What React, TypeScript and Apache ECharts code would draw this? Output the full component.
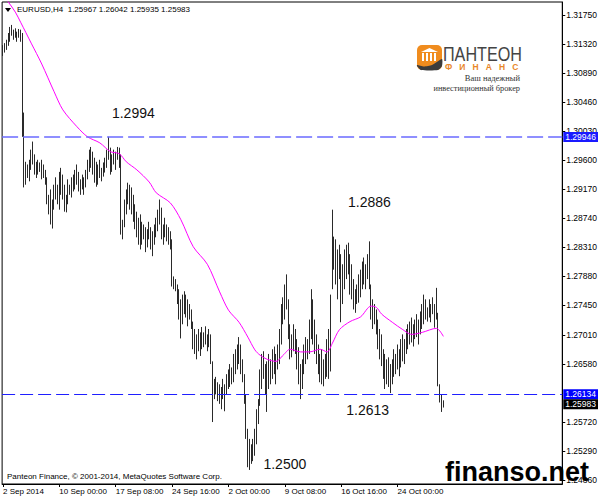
import React, { useEffect, useRef } from 'react';
import * as echarts from 'echarts';

// EURUSD H4 bars: [open, high, low, close]
const bars: number[][] = [
  [1.3118, 1.3131, 1.3115, 1.3127], [1.3127, 1.3134, 1.3120, 1.3129], [1.3129, 1.3139, 1.3124, 1.3136],
  [1.3136, 1.3149, 1.3130, 1.3146], [1.3146, 1.3158, 1.3136, 1.3152], [1.3152, 1.3161, 1.3145, 1.3148],
  [1.3148, 1.3154, 1.3139, 1.3145], [1.3145, 1.3156, 1.3142, 1.3150], [1.3150, 1.3151, 1.3136, 1.3142],
  [1.3142, 1.3155, 1.3142, 1.3149], [1.3149, 1.3154, 1.3136, 1.3144], [1.3144, 1.3149, 1.2995, 1.3000],
  [1.3000, 1.3031, 1.2920, 1.2940], [1.2940, 1.2958, 1.2924, 1.2945], [1.2945, 1.2954, 1.2934, 1.2940],
  [1.2940, 1.2961, 1.2929, 1.2955], [1.2955, 1.2976, 1.2946, 1.2970], [1.2970, 1.2988, 1.2954, 1.2960],
  [1.2960, 1.2969, 1.2939, 1.2945], [1.2945, 1.2958, 1.2934, 1.2950], [1.2950, 1.2961, 1.2939, 1.2946],
  [1.2946, 1.2957, 1.2943, 1.2952], [1.2952, 1.2961, 1.2932, 1.2940], [1.2940, 1.2954, 1.2934, 1.2944],
  [1.2944, 1.2946, 1.2924, 1.2930], [1.2930, 1.2935, 1.2895, 1.2900], [1.2900, 1.2909, 1.2880, 1.2895],
  [1.2895, 1.2917, 1.2865, 1.2875], [1.2875, 1.2902, 1.2859, 1.2895], [1.2895, 1.2924, 1.2887, 1.2915],
  [1.2915, 1.2935, 1.2902, 1.2905], [1.2905, 1.2924, 1.2895, 1.2918], [1.2918, 1.2943, 1.2887, 1.2935],
  [1.2935, 1.2949, 1.2909, 1.2920], [1.2920, 1.2939, 1.2902, 1.2910], [1.2910, 1.2924, 1.2884, 1.2895],
  [1.2895, 1.2909, 1.2883, 1.2902], [1.2902, 1.2932, 1.2895, 1.2920], [1.2920, 1.2924, 1.2909, 1.2915],
  [1.2915, 1.2935, 1.2905, 1.2928], [1.2928, 1.2939, 1.2914, 1.2932], [1.2932, 1.2946, 1.2917, 1.2940],
  [1.2940, 1.2954, 1.2924, 1.2930], [1.2930, 1.2943, 1.2914, 1.2920], [1.2920, 1.2932, 1.2909, 1.2925],
  [1.2925, 1.2939, 1.2917, 1.2922], [1.2922, 1.2935, 1.2909, 1.2930], [1.2930, 1.2946, 1.2920, 1.2942],
  [1.2942, 1.2961, 1.2932, 1.2955], [1.2955, 1.2976, 1.2943, 1.2968], [1.2968, 1.2980, 1.2949, 1.2958],
  [1.2958, 1.2973, 1.2939, 1.2945], [1.2945, 1.2964, 1.2927, 1.2935], [1.2935, 1.2958, 1.2921, 1.2940],
  [1.2940, 1.2954, 1.2924, 1.2948], [1.2948, 1.2961, 1.2934, 1.2940], [1.2940, 1.2949, 1.2929, 1.2945],
  [1.2945, 1.2957, 1.2936, 1.2952], [1.2952, 1.2964, 1.2942, 1.2960], [1.2960, 1.2976, 1.2949, 1.2970],
  [1.2970, 1.2995, 1.2961, 1.2968], [1.2968, 1.2979, 1.2939, 1.2950], [1.2950, 1.2969, 1.2943, 1.2962],
  [1.2962, 1.2976, 1.2954, 1.2958], [1.2958, 1.2973, 1.2946, 1.2968], [1.2968, 1.2980, 1.2961, 1.2972],
  [1.2972, 1.2979, 1.2949, 1.2962], [1.2962, 1.2969, 1.2850, 1.2860], [1.2860, 1.2872, 1.2843, 1.2865],
  [1.2865, 1.2902, 1.2861, 1.2895], [1.2895, 1.2917, 1.2880, 1.2905], [1.2905, 1.2927, 1.2895, 1.2910],
  [1.2910, 1.2924, 1.2887, 1.2900], [1.2900, 1.2920, 1.2880, 1.2895], [1.2895, 1.2909, 1.2869, 1.2880],
  [1.2880, 1.2895, 1.2858, 1.2870], [1.2870, 1.2884, 1.2846, 1.2855], [1.2855, 1.2875, 1.2835, 1.2850],
  [1.2850, 1.2880, 1.2828, 1.2845], [1.2845, 1.2869, 1.2835, 1.2858], [1.2858, 1.2865, 1.2843, 1.2850],
  [1.2850, 1.2861, 1.2824, 1.2835], [1.2835, 1.2858, 1.2831, 1.2850], [1.2850, 1.2869, 1.2843, 1.2848],
  [1.2848, 1.2861, 1.2828, 1.2840], [1.2840, 1.2855, 1.2818, 1.2845], [1.2845, 1.2865, 1.2835, 1.2858],
  [1.2858, 1.2875, 1.2846, 1.2868], [1.2868, 1.2887, 1.2855, 1.2880], [1.2880, 1.2902, 1.2865, 1.2872],
  [1.2872, 1.2890, 1.2843, 1.2850], [1.2850, 1.2865, 1.2835, 1.2858], [1.2858, 1.2875, 1.2846, 1.2852],
  [1.2852, 1.2865, 1.2840, 1.2848], [1.2848, 1.2861, 1.2835, 1.2842], [1.2842, 1.2855, 1.2828, 1.2840],
  [1.2840, 1.2843, 1.2773, 1.2780], [1.2780, 1.2788, 1.2769, 1.2776], [1.2776, 1.2784, 1.2766, 1.2772],
  [1.2772, 1.2776, 1.2747, 1.2755], [1.2755, 1.2769, 1.2724, 1.2730], [1.2730, 1.2754, 1.2696, 1.2740],
  [1.2740, 1.2761, 1.2717, 1.2748], [1.2748, 1.2766, 1.2732, 1.2745], [1.2745, 1.2761, 1.2727, 1.2735],
  [1.2735, 1.2754, 1.2714, 1.2738], [1.2738, 1.2747, 1.2724, 1.2730], [1.2730, 1.2739, 1.2710, 1.2715],
  [1.2715, 1.2721, 1.2680, 1.2690], [1.2690, 1.2710, 1.2673, 1.2680], [1.2680, 1.2702, 1.2665, 1.2692],
  [1.2692, 1.2710, 1.2677, 1.2685], [1.2685, 1.2705, 1.2670, 1.2695], [1.2695, 1.2713, 1.2680, 1.2690],
  [1.2690, 1.2705, 1.2683, 1.2700], [1.2700, 1.2714, 1.2687, 1.2692], [1.2692, 1.2702, 1.2677, 1.2698],
  [1.2698, 1.2710, 1.2683, 1.2690], [1.2690, 1.2702, 1.2658, 1.2660], [1.2660, 1.2662, 1.2572, 1.2625],
  [1.2625, 1.2636, 1.2606, 1.2620], [1.2620, 1.2639, 1.2613, 1.2622], [1.2622, 1.2631, 1.2603, 1.2612],
  [1.2612, 1.2628, 1.2599, 1.2608], [1.2608, 1.2624, 1.2591, 1.2618], [1.2618, 1.2636, 1.2606, 1.2615],
  [1.2615, 1.2628, 1.2588, 1.2622], [1.2622, 1.2643, 1.2613, 1.2635], [1.2635, 1.2650, 1.2621, 1.2640],
  [1.2640, 1.2658, 1.2624, 1.2638], [1.2638, 1.2653, 1.2628, 1.2648], [1.2648, 1.2673, 1.2631, 1.2660],
  [1.2660, 1.2680, 1.2643, 1.2668], [1.2668, 1.2687, 1.2650, 1.2675], [1.2675, 1.2698, 1.2658, 1.2665],
  [1.2665, 1.2687, 1.2643, 1.2650], [1.2650, 1.2665, 1.2631, 1.2635], [1.2635, 1.2643, 1.2599, 1.2605],
  [1.2605, 1.2613, 1.2547, 1.2555], [1.2555, 1.2562, 1.2505, 1.2515], [1.2515, 1.2547, 1.2501, 1.2525],
  [1.2525, 1.2539, 1.2510, 1.2520], [1.2520, 1.2547, 1.2514, 1.2540], [1.2540, 1.2562, 1.2522, 1.2555],
  [1.2555, 1.2591, 1.2539, 1.2585], [1.2585, 1.2606, 1.2569, 1.2600], [1.2600, 1.2650, 1.2596, 1.2640],
  [1.2640, 1.2673, 1.2621, 1.2660], [1.2660, 1.2677, 1.2636, 1.2645], [1.2645, 1.2658, 1.2613, 1.2630],
  [1.2630, 1.2662, 1.2587, 1.2640], [1.2640, 1.2673, 1.2621, 1.2655], [1.2655, 1.2665, 1.2628, 1.2648],
  [1.2648, 1.2680, 1.2636, 1.2665], [1.2665, 1.2684, 1.2643, 1.2650], [1.2650, 1.2673, 1.2628, 1.2660],
  [1.2660, 1.2687, 1.2650, 1.2675], [1.2675, 1.2710, 1.2658, 1.2700], [1.2700, 1.2747, 1.2687, 1.2735],
  [1.2735, 1.2757, 1.2717, 1.2750], [1.2750, 1.2776, 1.2724, 1.2765], [1.2765, 1.2791, 1.2739, 1.2745],
  [1.2745, 1.2754, 1.2695, 1.2705], [1.2705, 1.2717, 1.2665, 1.2685], [1.2685, 1.2702, 1.2668, 1.2695],
  [1.2695, 1.2717, 1.2677, 1.2700], [1.2700, 1.2710, 1.2673, 1.2685], [1.2685, 1.2695, 1.2650, 1.2660],
  [1.2660, 1.2683, 1.2628, 1.2640], [1.2640, 1.2658, 1.2606, 1.2625], [1.2625, 1.2665, 1.2621, 1.2650],
  [1.2650, 1.2687, 1.2643, 1.2670], [1.2670, 1.2698, 1.2658, 1.2680], [1.2680, 1.2695, 1.2665, 1.2685],
  [1.2685, 1.2724, 1.2673, 1.2715], [1.2715, 1.2769, 1.2695, 1.2740], [1.2740, 1.2754, 1.2687, 1.2705],
  [1.2705, 1.2724, 1.2673, 1.2690], [1.2690, 1.2702, 1.2658, 1.2670], [1.2670, 1.2687, 1.2643, 1.2655],
  [1.2655, 1.2673, 1.2631, 1.2645], [1.2645, 1.2680, 1.2628, 1.2650], [1.2650, 1.2665, 1.2625, 1.2640],
  [1.2640, 1.2673, 1.2636, 1.2660], [1.2660, 1.2695, 1.2639, 1.2680], [1.2680, 1.2710, 1.2636, 1.2650],
  [1.2650, 1.2761, 1.2647, 1.2755], [1.2770, 1.2887, 1.2769, 1.2830], [1.2830, 1.2847, 1.2798, 1.2810],
  [1.2810, 1.2843, 1.2776, 1.2795], [1.2795, 1.2828, 1.2754, 1.2815], [1.2815, 1.2835, 1.2784, 1.2800],
  [1.2800, 1.2821, 1.2720, 1.2770], [1.2770, 1.2806, 1.2747, 1.2795], [1.2795, 1.2828, 1.2769, 1.2815],
  [1.2815, 1.2835, 1.2784, 1.2825], [1.2825, 1.2838, 1.2791, 1.2810], [1.2810, 1.2821, 1.2761, 1.2785],
  [1.2785, 1.2806, 1.2754, 1.2770], [1.2770, 1.2784, 1.2739, 1.2750], [1.2750, 1.2769, 1.2734, 1.2760],
  [1.2760, 1.2776, 1.2747, 1.2765], [1.2765, 1.2791, 1.2749, 1.2780], [1.2780, 1.2798, 1.2757, 1.2785],
  [1.2785, 1.2810, 1.2769, 1.2800], [1.2800, 1.2816, 1.2776, 1.2790], [1.2790, 1.2806, 1.2769, 1.2800],
  [1.2800, 1.2821, 1.2784, 1.2815], [1.2815, 1.2840, 1.2769, 1.2780], [1.2776, 1.2776, 1.2724, 1.2735],
  [1.2735, 1.2754, 1.2710, 1.2740], [1.2740, 1.2747, 1.2717, 1.2725], [1.2725, 1.2739, 1.2702, 1.2710],
  [1.2710, 1.2724, 1.2680, 1.2690], [1.2690, 1.2710, 1.2665, 1.2675], [1.2675, 1.2702, 1.2655, 1.2665],
  [1.2665, 1.2680, 1.2636, 1.2645], [1.2645, 1.2673, 1.2621, 1.2650], [1.2650, 1.2665, 1.2628, 1.2640],
  [1.2640, 1.2668, 1.2624, 1.2650], [1.2650, 1.2658, 1.2615, 1.2630], [1.2630, 1.2665, 1.2628, 1.2655],
  [1.2655, 1.2680, 1.2639, 1.2665], [1.2665, 1.2673, 1.2643, 1.2660], [1.2660, 1.2687, 1.2650, 1.2675],
  [1.2675, 1.2680, 1.2640, 1.2670], [1.2670, 1.2695, 1.2653, 1.2685], [1.2685, 1.2702, 1.2662, 1.2690],
  [1.2690, 1.2695, 1.2658, 1.2680], [1.2680, 1.2710, 1.2673, 1.2700], [1.2700, 1.2717, 1.2680, 1.2705],
  [1.2705, 1.2721, 1.2687, 1.2712], [1.2712, 1.2727, 1.2690, 1.2700], [1.2700, 1.2717, 1.2684, 1.2708],
  [1.2708, 1.2724, 1.2695, 1.2715], [1.2715, 1.2732, 1.2698, 1.2720], [1.2720, 1.2724, 1.2687, 1.2705],
  [1.2705, 1.2736, 1.2702, 1.2725], [1.2725, 1.2747, 1.2710, 1.2735], [1.2735, 1.2761, 1.2717, 1.2745],
  [1.2745, 1.2754, 1.2724, 1.2738], [1.2738, 1.2742, 1.2721, 1.2730], [1.2730, 1.2754, 1.2727, 1.2745],
  [1.2745, 1.2747, 1.2720, 1.2735], [1.2735, 1.2757, 1.2732, 1.2750], [1.2750, 1.2747, 1.2712, 1.2725],
  [1.2725, 1.2771, 1.2724, 1.2730], [1.2730, 1.2734, 1.2625, 1.2630], [1.2628, 1.2628, 1.2601, 1.2610],
  [1.2610, 1.2613, 1.2587, 1.2597], [1.25967, 1.26042, 1.25935, 1.25983],
];

// Moving average (magenta) read at sample bars: [bar index, price]
const maPoints: number[][] = [
  [0, 1.3205], [3, 1.3195], [7, 1.3180], [10, 1.3165], [16, 1.3134], [22, 1.3103], [29, 1.3062],
  [34, 1.3035], [42, 1.3010], [48, 1.2995], [55, 1.2986], [61, 1.2973], [66, 1.2970], [70, 1.2958],
  [76, 1.2946], [83, 1.2928], [87, 1.2912], [95, 1.2897], [101, 1.2872], [108, 1.2832], [116, 1.2806],
  [123, 1.2765], [128, 1.2738], [134, 1.2720], [139, 1.2698], [143, 1.2679], [146, 1.2671], [150, 1.2665],
  [155, 1.2662], [159, 1.2671], [163, 1.2680], [169, 1.2676], [174, 1.2676], [180, 1.2680], [184, 1.2676],
  [187, 1.2689], [191, 1.2709], [197, 1.2721], [203, 1.2728], [209, 1.2744], [212, 1.2742], [215, 1.2732],
  [221, 1.2720], [227, 1.2709], [232, 1.2702], [238, 1.2705], [246, 1.2711], [250, 1.2699],
];

const totalSlots = 318; // bar slots visible on the time axis (incl. empty chart shift)
const xTickIndex = [0, 32, 64, 96, 128, 160, 192, 224];
const xTickLabels = ['2 Sep 2014', '10 Sep 00:00', '17 Sep 08:00', '24 Sep 16:00', '2 Oct 00:00', '9 Oct 08:00', '16 Oct 16:00', '24 Oct 00:00'];
const yTickValues = [1.24860, 1.25290, 1.25720, 1.26580, 1.27010, 1.27450, 1.27880, 1.28310, 1.28740, 1.29170, 1.29600, 1.30030, 1.30460, 1.30890, 1.31320, 1.31750];
const yMin = 1.24801;
const yMax = 1.31950;
const levelValues = [1.29946, 1.26134];
const annotationTexts = ['1.2994', '1.2886', '1.2613', '1.2500'];
const annotationBars = [74, 208, 207, 160];
const annotationPrices = [1.3031, 1.2898, 1.2590, 1.2510];
const symbolName = 'EURUSD,H4';
const copyrightText = 'Panteon Finance, © 2001-2014, MetaQuotes Software Corp.';

const FONT = '"Liberation Sans", Arial, sans-serif';

export default function App() {
  const ref = useRef<HTMLDivElement>(null);

  useEffect(() => {
    if (!ref.current) return;
    const chart = echarts.init(ref.current, undefined, { renderer: 'svg' });

    const slots = Array.from({ length: totalSlots }, (_, i) => String(i));
    const tickSet = new Set(xTickIndex);
    const labelMap: Record<number, string> = {};
    xTickIndex.forEach((idx, k) => { labelMap[idx] = xTickLabels[k]; });
    const last = bars[bars.length - 1];
    const header = `${symbolName}  ${last.map((v) => v.toFixed(5)).join(' ')}`;
    const lastClose = last[3];

    const boxLabel = (bg: string, value: number) => ({
      show: true,
      position: 'end',
      distance: 1,
      formatter: () => value.toFixed(5),
      color: '#fff',
      backgroundColor: bg,
      padding: [1, 2, 0, 2],
      fontSize: 8.5,
      lineHeight: 9,
      fontFamily: FONT,
    });

    const option: any = {
      animation: false,
      backgroundColor: '#fff',
      grid: { left: 2, right: 37, top: 2, bottom: 15, show: true, borderColor: '#000', borderWidth: 1, backgroundColor: '#fff' },
      xAxis: {
        type: 'category',
        data: slots,
        boundaryGap: true,
        axisLine: { show: true, lineStyle: { color: '#000', width: 1 } },
        axisTick: { show: true, interval: (i: number) => tickSet.has(i), alignWithLabel: true, length: 3, lineStyle: { color: '#000' } },
        axisLabel: {
          show: true,
          interval: (i: number) => tickSet.has(i),
          formatter: (v: string) => labelMap[Number(v)] ?? '',
          align: 'left',
          margin: 3,
          fontSize: 8,
          color: '#000',
          fontFamily: FONT,
        },
        splitLine: { show: false },
      },
      yAxis: {
        type: 'value',
        position: 'right',
        min: yMin,
        max: yMax,
        scale: true,
        splitLine: { show: false },
        axisLine: { show: true, onZero: false, lineStyle: { color: '#000' } },
        axisTick: { show: true, customValues: yTickValues, length: 3, lineStyle: { color: '#000' } },
        axisLabel: {
          show: true,
          customValues: yTickValues,
          formatter: (v: number) => v.toFixed(5),
          margin: 4,
          fontSize: 8.5,
          color: '#000',
          fontFamily: FONT,
        },
      },
      series: [
        {
          type: 'candlestick',
          data: bars.map(([o, h, l, c]) => [o, c, l, h]),
          barWidth: 1,
          itemStyle: { color: '#2a2a2a', color0: '#2a2a2a', borderColor: '#2a2a2a', borderColor0: '#2a2a2a', borderWidth: 1 },
          markLine: {
            symbol: ['none', 'none'],
            silent: true,
            animation: false,
            precision: 6,
            data: [
              { yAxis: levelValues[0], lineStyle: { color: '#6b6bff', width: 1.6, type: [16, 5] }, label: boxLabel('#1a1aff', levelValues[0]) },
              { yAxis: levelValues[1], lineStyle: { color: '#1f1fff', width: 1, type: [13, 5] }, label: boxLabel('#0000ff', levelValues[1]) },
              { yAxis: lastClose, lineStyle: { color: 'rgba(0,0,0,0)', width: 1, type: 'solid' }, label: boxLabel('#000', lastClose) },
            ],
          },
          markPoint: {
            symbol: 'rect',
            symbolSize: 1,
            silent: true,
            itemStyle: { color: 'rgba(0,0,0,0)' },
            label: { show: true, position: 'inside', color: '#111', fontSize: 14, fontFamily: FONT, formatter: (p: any) => p.name },
            data: annotationTexts.map((t, k) => ({ name: t, coord: [annotationBars[k], annotationPrices[k]] })),
          },
        },
        {
          type: 'line',
          data: maPoints.map(([i, v]) => [i, v]),
          smooth: 0.3,
          symbol: 'none',
          lineStyle: { color: '#ff00ff', width: 1 },
          z: 3,
        },
      ],
      graphic: [
        { type: 'polygon', z: 100, shape: { points: [[5, 8], [11, 8], [8, 12]] }, style: { fill: '#000' } },
        { type: 'text', z: 100, x: 17, y: 9, style: { text: header, fontSize: 8, fontFamily: FONT, fill: '#000', verticalAlign: 'middle' } },
        { type: 'text', z: 100, x: 7, y: 476, style: { text: copyrightText, fontSize: 8, fontFamily: FONT, fill: '#000', verticalAlign: 'middle' } },
        // logo
        { type: 'rect', z: 100, shape: { x: 417, y: 45, width: 25, height: 25, r: 5 }, style: { fill: '#f08c1e' } },
        { type: 'polygon', z: 101, shape: { points: [[421, 52], [429.5, 48], [438, 52]] }, style: { fill: '#fff' } },
        { type: 'rect', z: 101, shape: { x: 422, y: 53, width: 2, height: 8 }, style: { fill: '#fff' } },
        { type: 'rect', z: 101, shape: { x: 426, y: 53, width: 2, height: 8 }, style: { fill: '#fff' } },
        { type: 'rect', z: 101, shape: { x: 430, y: 53, width: 2, height: 8 }, style: { fill: '#fff' } },
        { type: 'rect', z: 101, shape: { x: 434, y: 53, width: 2, height: 8 }, style: { fill: '#fff' } },
        { type: 'polygon', z: 102, shape: { points: [[417, 65], [424, 66.5], [432, 65], [442, 59], [442, 66], [438, 70], [421, 70], [417, 66]], smooth: 0.2 }, style: { fill: '#3c3c3c' } },
        { type: 'text', z: 100, x: 443, y: 54, scaleX: 0.77, style: { text: 'ПАНТЕОН', fontSize: 21, fontFamily: FONT, fill: '#444', verticalAlign: 'middle' } },
        { type: 'text', z: 100, x: 445, y: 67, style: { text: 'Ф   И   Н   А   Н   С', fontSize: 8.5, fontWeight: 'bold', fontFamily: FONT, fill: '#e8872a', verticalAlign: 'middle' } },
        { type: 'text', z: 100, x: 520, y: 78, style: { text: 'Ваш надежный', fontSize: 8.5, fontFamily: '"Liberation Serif", serif', fill: '#333', align: 'right', verticalAlign: 'middle' } },
        { type: 'text', z: 100, x: 520, y: 88.5, style: { text: 'инвестиционный брокер', fontSize: 8.3, fontFamily: '"Liberation Serif", serif', fill: '#333', align: 'right', verticalAlign: 'middle' } },
        // watermark
        { type: 'text', z: 120, x: 445, y: 472, style: { text: 'finanso.net', fontSize: 27, fontWeight: 'bold', fontFamily: FONT, fill: '#000', verticalAlign: 'middle' } },
      ],
    };

    chart.setOption(option);
    return () => chart.dispose();
  }, []);

  return <div ref={ref} style={{ position: 'absolute', left: 0, top: 0, width: 600, height: 499 }} />;
}
